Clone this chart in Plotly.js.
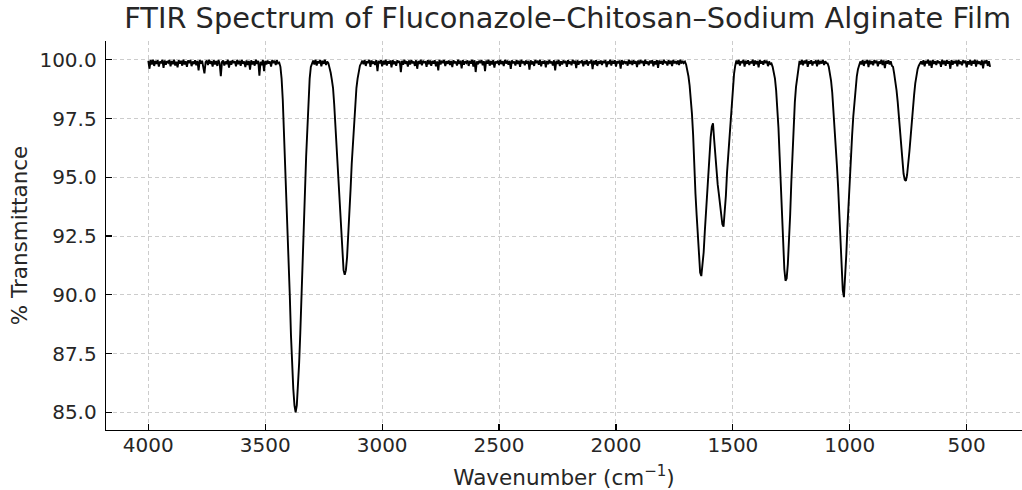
<!DOCTYPE html>
<html>
<head>
<meta charset="utf-8">
<script src="https://cdn.plot.ly/plotly-3.0.1.min.js"></script>
<style>
  html, body { margin: 0; padding: 0; background: #ffffff; }
  #chart { width: 1022px; height: 490px; }
</style>
</head>
<body>
<div id="chart"></div>
<script>
const wavenumberStart = 4000;
const wavenumberStep = -5;

const transmittance = [
  // 4000 - 3445 baseline
  99.96, 99.62, 99.99, 99.80, 100.0, 99.74, 99.95, 99.83, 99.98, 99.71,
  99.93, 99.86, 100.0, 99.66, 99.97, 99.79, 99.94, 99.88, 99.99, 99.72,
  99.95, 99.81, 100.0, 99.76, 99.92, 99.68, 99.98, 99.84, 99.96, 99.75,
  100.0, 99.80, 99.94, 99.70, 99.97, 99.86, 99.99, 99.73, 99.93, 99.82,
  99.98, 99.77, 99.95, 99.55, 99.99, 99.84, 99.96, 99.69, 99.42, 99.90,
  99.97, 99.78, 100.0, 99.83, 99.94, 99.71, 99.98, 99.80, 99.95, 99.74,
  99.99, 99.85, 99.30, 99.91, 99.97, 99.76, 99.93, 99.82, 100.0, 99.67,
  99.95, 99.79, 99.98, 99.86, 99.94, 99.72, 100.0, 99.81, 99.96, 99.74,
  99.99, 99.83, 99.93, 99.69, 99.97, 99.78, 99.95, 99.58, 99.98, 99.80,
  99.94, 99.75, 100.0, 99.82, 99.96, 99.32, 99.91, 99.77, 99.99, 99.52,
  99.95, 99.80, 99.97, 99.84, 99.93, 99.71, 99.99, 99.86, 99.96, 99.78,
  99.98, 99.85,
  // 3440 - 3300 band
  99.88, 99.70, 99.20, 98.30, 97.00, 95.90, 94.60, 93.20, 91.80, 90.00,
  88.30, 87.00, 86.00, 85.30, 85.00, 85.30, 86.00, 87.10, 88.40, 90.10,
  91.80, 93.30, 94.60, 95.90, 97.00, 98.30, 99.20, 99.70, 99.88,
  // 3295 - 3225 baseline
  99.97, 99.80, 100.0, 99.76, 99.94, 99.85, 99.99, 99.72, 99.96, 99.83,
  100.0, 99.78, 99.93, 99.86, 99.70,
  // 3220 - 3090 band
  99.45, 99.15, 98.80, 98.10, 97.20, 96.50, 95.60, 94.50, 93.40, 92.40,
  91.60, 91.05, 90.85, 91.05, 91.60, 92.40, 93.40, 94.50, 95.60, 96.50,
  97.30, 98.10, 98.80, 99.20, 99.50, 99.75, 99.85,
  // 3085 - 1705 baseline
  99.96, 99.81, 99.99, 99.74, 99.94, 99.86, 100.0, 99.70, 99.97, 99.83,
  99.93, 99.78, 99.99, 99.52, 99.95, 99.85, 99.98, 99.72, 99.96, 99.80,
  100.0, 99.76, 99.94, 99.84, 99.97, 99.68, 99.99, 99.82, 99.93, 99.75,
  99.98, 99.87, 99.95, 99.47, 99.96, 99.79, 100.0, 99.83, 99.94, 99.71,
  99.97, 99.80, 99.99, 99.85, 99.93, 99.74, 99.98, 99.62, 99.95, 99.82,
  100.0, 99.77, 99.96, 99.86, 99.94, 99.70, 99.99, 99.81, 99.97, 99.75,
  99.95, 99.84, 99.98, 99.72, 99.93, 99.55, 100.0, 99.80, 99.96, 99.86,
  99.99, 99.73, 99.94, 99.83, 99.97, 99.78, 99.95, 99.69, 99.98, 99.85,
  99.93, 99.76, 100.0, 99.82, 99.96, 99.64, 99.99, 99.79, 99.94, 99.87,
  99.97, 99.74, 99.95, 99.84, 100.0, 99.71, 99.98, 99.48, 99.93, 99.81,
  99.96, 99.86, 99.99, 99.77, 99.94, 99.52, 99.97, 99.83, 100.0, 99.75,
  99.95, 99.80, 99.98, 99.67, 99.93, 99.85, 99.96, 99.78, 99.99, 99.82,
  99.94, 99.73, 100.0, 99.84, 99.97, 99.79, 99.95, 99.61, 99.98, 99.86,
  99.93, 99.76, 99.99, 99.82, 99.96, 99.70, 100.0, 99.85, 99.94, 99.77,
  99.97, 99.83, 99.95, 99.58, 99.98, 99.80, 99.93, 99.74, 99.99, 99.86,
  99.96, 99.79, 100.0, 99.72, 99.94, 99.84, 99.97, 99.68, 99.95, 99.81,
  99.99, 99.85, 99.93, 99.76, 99.98, 99.55, 99.96, 99.82, 100.0, 99.73,
  99.94, 99.80, 99.97, 99.86, 99.95, 99.70, 99.99, 99.83, 99.93, 99.77,
  100.0, 99.84, 99.96, 99.65, 99.98, 99.79, 99.94, 99.86, 99.97, 99.72,
  99.95, 99.81, 99.99, 99.75, 99.93, 99.85, 100.0, 99.60, 99.96, 99.80,
  99.98, 99.74, 99.94, 99.83, 99.97, 99.78, 99.95, 99.86, 99.99, 99.69,
  99.93, 99.82, 100.0, 99.76, 99.96, 99.84, 99.98, 99.71, 99.94, 99.85,
  99.97, 99.63, 99.99, 99.80, 99.95, 99.86, 99.93, 99.75, 100.0, 99.82,
  99.96, 99.78, 99.98, 99.84, 99.94, 99.69, 99.97, 99.81, 99.99, 99.86,
  99.95, 99.74, 100.0, 99.83, 99.93, 99.77, 99.96, 99.85, 99.98, 99.72,
  99.94, 99.80, 99.99, 99.66, 99.97, 99.84, 99.95, 99.79, 100.0, 99.86,
  99.93, 99.76, 99.98, 99.82, 99.96, 99.73, 99.99, 99.85, 99.94, 99.81,
  99.97, 99.78, 100.0, 99.84, 99.95, 99.86, 99.92,
  // 1700 - 1490 bands
  99.80, 99.60, 99.30, 98.90, 98.40, 97.70, 96.80, 95.30, 94.30, 93.40,
  92.50, 91.60, 90.95, 90.80, 91.20, 91.80, 92.70, 93.60, 94.50, 95.30,
  96.00, 96.70, 97.15, 97.30, 96.60, 95.90, 95.20, 94.70, 94.30, 93.90,
  93.40, 93.00, 92.90, 93.40, 94.20, 95.20, 95.90, 96.70, 97.40, 98.20,
  98.90, 99.40, 99.75,
  // 1485 - 1335 baseline
  99.97, 99.82, 99.99, 99.76, 99.94, 99.86, 100.0, 99.71, 99.96, 99.83,
  99.98, 99.78, 99.93, 99.85, 100.0, 99.74, 99.97, 99.81, 99.95, 99.68,
  99.99, 99.84, 99.94, 99.79, 99.98, 99.86, 99.96, 99.73, 99.93, 99.82,
  99.85,
  // 1330 - 1220 band
  99.70, 99.50, 99.20, 98.70, 98.00, 97.10, 95.90, 94.60, 93.20, 92.00,
  91.10, 90.60, 90.70, 91.30, 92.20, 93.40, 94.80, 96.10, 97.30, 98.20,
  98.85, 99.30, 99.60,
  // 1215 - 1095 baseline
  99.95, 99.80, 99.99, 99.77, 99.96, 99.85, 100.0, 99.70, 99.94, 99.83,
  99.98, 99.76, 99.93, 99.86, 99.97, 99.72, 100.0, 99.81, 99.95, 99.84,
  99.99, 99.78, 99.94, 99.86, 99.85,
  // 1090 - 960 band
  99.70, 99.45, 99.10, 98.60, 97.90, 97.20, 96.40, 95.50, 94.60, 93.60,
  92.50, 91.30, 90.20, 89.90, 90.60, 91.70, 92.90, 94.00, 95.00, 95.90,
  96.80, 97.60, 98.20, 98.80, 99.30, 99.60, 99.80,
  // 955 - 815 baseline
  99.93, 99.80, 99.98, 99.74, 99.95, 99.85, 100.0, 99.69, 99.97, 99.82,
  99.94, 99.77, 99.99, 99.86, 99.96, 99.72, 99.93, 99.83, 100.0, 99.78,
  99.97, 99.65, 99.95, 99.84, 99.98, 99.80, 99.94, 99.75, 99.70,
  // 810 - 700 band
  99.40, 99.10, 98.70, 98.20, 97.55, 96.90, 96.20, 95.60, 95.15, 94.90,
  94.85, 95.10, 95.50, 96.10, 96.70, 97.40, 98.00, 98.50, 99.00, 99.35,
  99.60, 99.75, 99.85,
  // 695 - 400 baseline
  99.93, 99.80, 99.98, 99.72, 99.95, 99.85, 100.0, 99.76, 99.96, 99.66,
  99.99, 99.83, 99.94, 99.78, 99.97, 99.86, 99.93, 99.70, 100.0, 99.81,
  99.96, 99.74, 99.98, 99.84, 99.94, 99.62, 99.99, 99.79, 99.95, 99.85,
  99.97, 99.72, 100.0, 99.82, 99.93, 99.77, 99.98, 99.86, 99.96, 99.68,
  99.94, 99.80, 99.99, 99.75, 99.95, 99.84, 100.0, 99.71, 99.97, 99.83,
  99.93, 99.78, 99.98, 99.64, 99.96, 99.85, 99.99, 99.74, 99.94, 99.70
];

const xTickVals = [4000, 3500, 3000, 2500, 2000, 1500, 1000, 500];
const xTickText = ['4000', '3500', '3000', '2500', '2000', '1500', '1000', '500'];
const yTickVals = [85.0, 87.5, 90.0, 92.5, 95.0, 97.5, 100.0];
const yTickText = ['85.0', '87.5', '90.0', '92.5', '95.0', '97.5', '100.0'];

const titleText = 'FTIR Spectrum of Fluconazole\u2013Chitosan\u2013Sodium Alginate Film';
const xTitle = 'Wavenumber (cm<sup>\u22121</sup>)';
const yTitle = '% Transmittance';

const textColor = '#262626';
const fontFamily = 'DejaVu Sans, Liberation Sans, sans-serif';

const trace = {
  type: 'scatter',
  mode: 'lines',
  x0: wavenumberStart,
  dx: wavenumberStep,
  y: transmittance,
  line: { color: '#000000', width: 1.9 },
  hoverinfo: 'x+y',
  showlegend: false
};

const gridStyle = { gridcolor: '#cccccc', griddash: '4px,3px', gridwidth: 1 };

const layout = {
  width: 1022,
  height: 490,
  margin: { l: 106, r: 0, t: 41, b: 60, pad: 0 },
  paper_bgcolor: '#ffffff',
  plot_bgcolor: '#ffffff',
  font: { family: fontFamily, color: textColor, size: 20 },
  title: {
    text: titleText,
    font: { family: fontFamily, size: 28.8, color: textColor },
    x: 0.504, xanchor: 'center', xref: 'paper',
    y: 0.963, yanchor: 'middle', yref: 'container'
  },
  xaxis: Object.assign({
    range: [4181, 263.5],
    tickmode: 'array',
    tickvals: xTickVals,
    ticktext: xTickText,
    ticks: 'inside',
    ticklen: 6,
    tickwidth: 1.2,
    tickcolor: '#000000',
    ticklabelstandoff: -3,
    showline: true,
    linecolor: '#000000',
    linewidth: 1.3,
    mirror: false,
    zeroline: false,
    showgrid: true,
    tickfont: { family: fontFamily, size: 20, color: textColor },
    title: { text: xTitle, font: { family: fontFamily, size: 21.5, color: textColor }, standoff: 14 },
    automargin: false
  }, gridStyle),
  yaxis: Object.assign({
    range: [84.25, 100.8],
    tickmode: 'array',
    tickvals: yTickVals,
    ticktext: yTickText,
    ticks: 'inside',
    ticklen: 6,
    tickwidth: 1.2,
    tickcolor: '#000000',
    ticklabelstandoff: 4,
    showline: true,
    linecolor: '#000000',
    linewidth: 1.3,
    mirror: false,
    zeroline: false,
    showgrid: true,
    tickfont: { family: fontFamily, size: 20, color: textColor },
    title: { text: yTitle, font: { family: fontFamily, size: 21.5, color: textColor }, standoff: 6 },
    automargin: false
  }, gridStyle)
};

Plotly.newPlot('chart', [trace], layout, { displayModeBar: false, staticPlot: true });
</script>
</body>
</html>
